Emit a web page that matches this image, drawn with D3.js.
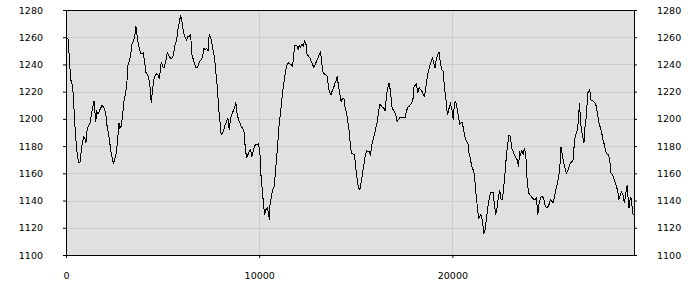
<!DOCTYPE html>
<html>
<head>
<meta charset="utf-8">
<script src="https://cdn.jsdelivr.net/npm/d3@7"></script>
<style>
  body { margin: 0; background: #fff; }
  .axis text { font-family: "DejaVu Sans", sans-serif; font-size: 9.5px; fill: #000; }
  .axis path { display: none; }
  .axis line { stroke: #000; }
</style>
</head>
<body>
<div id="chart"></div>
<script>
//chart size
var svgWidth = 700;
var svgHeight = 300;

var margin = {top: 10, right: 66, bottom: 45, left: 66};

var chartWidth = svgWidth - margin.left - margin.right;
var chartHeight = svgHeight - margin.top - margin.bottom;

// data, one line per stretch of the plot
var sampleX = [
  100,140,210,240,310,380,450,520,580,660,720,790,860,930,1000,1030,1100,1170,1240,1310,1380,1450,1480,1540,1590,1660,1720,1800,1860,1930,2000,2070,2140,2210,2280,2340,2420,2470,2530,2600,2670,2740,2790,2860,2930,3000,3070,3140,3210,3270,3350,3410,3480,3550,3620,3660,3720,3790,3860,3930,4000,4070,4140,4210,4280,4350,4410,4490,4550,4620,4690,4760,4830,
  4860,4930,5000,5070,5170,5240,5310,5380,5450,5520,5590,5650,5730,5790,5860,5930,5990,6040,6100,6170,6240,6310,6380,6450,6520,6590,6660,6720,6790,6860,6930,7000,7070,7140,7210,7280,7350,7410,7490,7550,7620,7690,7760,7830,7900,7970,8030,8110,8170,8240,8310,8380,8420,8450,8520,8590,8650,8730,8790,8860,8930,9000,9070,9140,9210,9280,9350,9420,9480,9550,9620,9690,9760,
  9830,9970,10040,10100,10180,10240,10280,10350,10410,10490,10520,10550,10620,10690,10760,10830,10900,10970,11030,11110,11170,11240,11310,11380,11450,11520,11590,11660,11730,11790,11830,11900,11970,12020,12070,12140,12210,12280,12350,12420,12480,12560,12620,12690,12760,12830,12900,12970,13040,13100,13180,13240,13310,13380,13450,13520,13590,13660,13720,13800,13860,13930,14000,14030,14110,14170,14240,14310,14380,14450,14520,14590,14660,14730,
  14800,14930,15000,15070,15140,15210,15280,15350,15420,15480,15560,15620,15690,15760,15830,15900,15970,16040,16100,16180,16240,16310,16380,16450,16520,16590,16660,16720,16800,16860,16930,17000,17070,17140,17210,17280,17350,17420,17490,17550,17620,17690,17760,17830,17900,17970,18000,18070,18140,18210,18280,18350,18420,18480,18560,18620,18690,18760,18830,18900,18970,19040,19100,19180,19240,19310,19380,19450,19520,19590,19660,19720,
  19760,19830,19900,19970,20040,20110,20170,20240,20310,20380,20450,20520,20590,20660,20730,20800,20860,20940,21000,21070,21140,21210,21280,21350,21420,21480,21560,21620,21690,21760,21830,21900,21970,22040,22100,22180,22240,22310,22380,22450,22520,22590,22660,22730,22800,22860,22930,23000,23070,23140,23210,23280,23350,23420,23450,23480,23520,23590,23660,23730,23800,23860,23940,24000,24070,24140,24210,24280,24350,24420,24480,24560,24620,
  24730,24790,24870,24930,25000,25070,25140,25210,25280,25350,25420,25490,25560,25620,25690,25760,25830,25900,25970,26040,26110,26180,26240,26320,26380,26450,26520,26550,26590,26620,26690,26760,26810,26860,26940,27000,27070,27110,27170,27250,27310,27380,27450,27520,27590,27660,27730,27800,27870,27930,28000,28070,28140,28210,28280,28350,28420,28490,28560,28620,28700,28760,28830,28900,28970,29040,29110,29140,29180,29240,29280,29320,29350
];

var sampleY = [
  1259.5,1252,1236,1229,1226,1218,1197,1183.5,1174,1167.6,1167.6,1177,1183.5,1187,1185,1182,1193,1194.6,1197,1203,1208,1213,1208,1198,1205.6,1203.6,1205.6,1208,1210,1209,1207,1202,1193,1188.5,1181,1175,1169,1167.6,1171,1175,1183.5,1197,1193,1194.6,1203,1213,1218,1224,1240,1242,1247,1254.6,1257,1259.5,1268,1263,1257,1252,1248,1248,1248.5,1242,1234,1232.6,1230,1223,1212,1223,1229,1232,1233,1232.6,1229.6,
  1232.6,1242,1238.7,1237.5,1242.4,1248.5,1247,1245,1244,1245,1249.7,1254.6,1258,1265.6,1270.5,1276,1273,1267,1262.5,1260,1258,1260.7,1260.7,1262,1247,1243.6,1240,1237.5,1237.5,1240,1242.4,1243.6,1246,1251.7,1251,1251.7,1249.7,1262,1259.5,1256,1249.7,1244.8,1233.8,1224,1208,1198,1188.5,1189.7,1192,1196,1198,1200.7,1196,1192,1200.7,1203.6,1205.6,1208,1212,1203.6,1199.5,1197,1194.6,1193,1191,1178.7,1171,1173.8,1176,1177.4,1172,1176,1180,
  1181.3,1181.6,1173.8,1156.6,1144.4,1134.6,1129.7,1133.3,1134.6,1131,1126,1135.8,1142,1148,1149,1159,1171.3,1183.5,1196,1205.6,1214,1222.8,1230,1236,1240,1241,1240.4,1240,1238.7,1247,1254,1254,1253.4,1251,1254,1252.6,1255,1253.4,1257,1255,1247,1246,1244.8,1242.4,1240,1238,1240,1242.4,1244.8,1247,1249,1241,1233.8,1233,1232.6,1231.3,1222.8,1219,1218,1221.5,1223.2,1226.4,1229,1231.3,1224,1219,1213,1215,1215.4,1208,1204.4,1198,1191,1178.7,
  1174.6,1173.8,1164,1155.4,1149.3,1148,1154,1160,1166.4,1172.5,1176.7,1175.7,1176.2,1173.8,1181,1185,1188.5,1193.4,1197,1205.6,1210.5,1210,1208.5,1208,1205.6,1218,1223.2,1226.4,1220,1209.3,1206.8,1205.6,1203,1198,1199.5,1201,1200.7,1200.7,1201,1200.7,1205.6,1208.5,1209.3,1210.5,1211.7,1215.4,1222.8,1224.7,1225.7,1219,1222.8,1221.5,1220.3,1218.3,1216.6,1222.8,1230,1235,1238.7,1242.4,1244.8,1241,1237.5,1244.8,1247,1249,1241,1236.2,1235,1222.8,1215.4,1205.6,
  1203.3,1208,1211,1208,1199.5,1211.7,1212.5,1208,1202,1196,1197,1197,1191,1186,1183.5,1182.3,1175,1170,1165,1162.7,1159,1146.8,1137,1127.2,1128.4,1129.7,1125.2,1115.4,1118.6,1126,1134.6,1140.7,1145.6,1146,1146.3,1137,1129.7,1134.6,1142,1148,1140.7,1140.7,1150.5,1161.5,1173.8,1181,1187.7,1187.2,1178.7,1176.2,1173.8,1171.8,1170,1165,1170,1176.2,1172.5,1177.4,1173.8,1178.7,1173.8,1156.6,1145.6,1144.4,1143.2,1142,1140.7,1140.7,1142,1129.7,1137,1142,1143.2,
  1141.5,1137,1134.6,1135,1137,1140.7,1139.5,1138.3,1142,1148,1151.7,1156.6,1164,1179.2,1173.8,1167.6,1164,1160.3,1162,1165,1167.6,1168.4,1168.9,1183.5,1188.5,1191,1198,1205.6,1211.7,1199.5,1191,1186,1182.3,1193.4,1203,1219,1220.3,1221.5,1214,1213.4,1213,1211.7,1209.3,1203,1197,1193.4,1189.7,1184,1181,1176.2,1174.2,1173.8,1170,1160.3,1159,1156.6,1153.7,1150.5,1146.8,1140.7,1144.4,1146.3,1144.4,1138.3,1144.4,1151.2,1139.5,1134.6,1139.5,1142.4,1137,1134.6,1129.7
];

var xTicks = [0, 10000, 20000];
var yTicks = [1100, 1120, 1140, 1160, 1180, 1200, 1220, 1240, 1260, 1280];
var xMax = 29400;

var svg = d3.select("#chart").append("svg")
    .attr("width", svgWidth)
    .attr("height", svgHeight);

var chartGroup = svg.append("g")
    .attr("transform", `translate(${margin.left}, ${margin.top})`);

var xScale = d3.scaleLinear()
    .domain([0, xMax])
    .range([0, chartWidth]);

var yScale = d3.scaleLinear()
    .domain([1100, 1280])
    .range([chartHeight, 0]);

// plot background
chartGroup.append("rect")
    .attr("x", 0)
    .attr("y", 0)
    .attr("width", chartWidth)
    .attr("height", chartHeight)
    .attr("fill", "#e0e0e0");

// grid lines
chartGroup.selectAll(".hgrid")
    .data(yTicks.slice(1, -1))
    .enter()
    .append("line")
    .attr("x1", 0)
    .attr("x2", chartWidth)
    .attr("y1", d => Math.round(yScale(d)) + 0.5)
    .attr("y2", d => Math.round(yScale(d)) + 0.5)
    .attr("stroke", "#cccccc");

chartGroup.selectAll(".vgrid")
    .data(xTicks.slice(1))
    .enter()
    .append("line")
    .attr("x1", d => Math.round(xScale(d)) + 0.5)
    .attr("x2", d => Math.round(xScale(d)) + 0.5)
    .attr("y1", 0)
    .attr("y2", chartHeight)
    .attr("stroke", "#cccccc");

// the line
var points = sampleX.map((x, i) => [x, sampleY[i]]);

var lineGen = d3.line()
    .x(d => xScale(d[0]))
    .y(d => yScale(d[1]));

chartGroup.append("path")
    .datum(points)
    .attr("d", lineGen)
    .attr("fill", "none")
    .attr("stroke", "#000")
    .attr("stroke-width", 1)
    .attr("shape-rendering", "crispEdges");

// frame
chartGroup.append("rect")
    .attr("x", 0.5)
    .attr("y", 0.5)
    .attr("width", chartWidth)
    .attr("height", chartHeight)
    .attr("fill", "none")
    .attr("stroke", "#000");

// axes
var fmt = d3.format("d");
var leftAxis = d3.axisLeft(yScale).tickValues(yTicks).tickSize(3).tickPadding(20).tickFormat(fmt);
var rightAxis = d3.axisRight(yScale).tickValues(yTicks).tickSize(3).tickPadding(20).tickFormat(fmt);
var bottomAxis = d3.axisBottom(xScale).tickValues(xTicks).tickSize(3).tickPadding(14).tickFormat(fmt);

chartGroup.append("g")
    .attr("class", "axis")
    .call(leftAxis);

chartGroup.append("g")
    .attr("class", "axis")
    .attr("transform", `translate(${chartWidth}, 0)`)
    .call(rightAxis);

chartGroup.append("g")
    .attr("class", "axis")
    .attr("transform", `translate(0, ${chartHeight})`)
    .call(bottomAxis);
</script>
</body>
</html>
